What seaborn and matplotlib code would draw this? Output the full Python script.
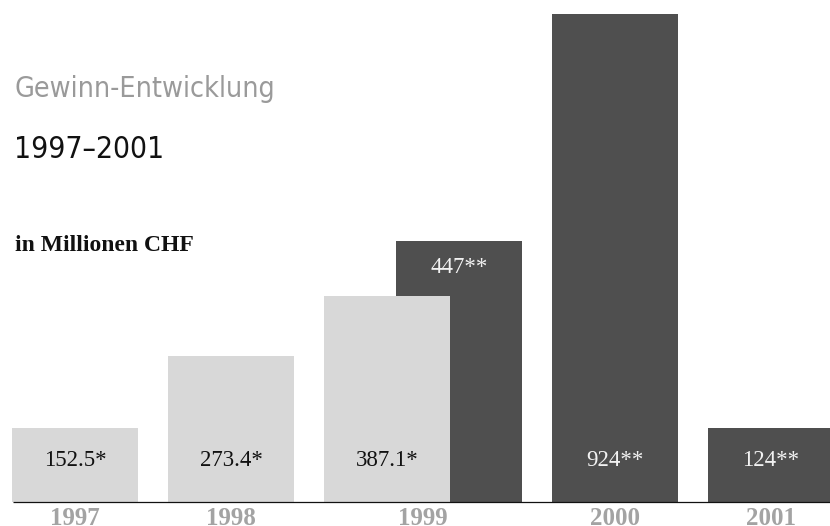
import matplotlib
matplotlib.use("Agg")
import matplotlib.pyplot as plt
import seaborn as sns
import pandas as pd
import numpy as np

# ---- data ----
light_years = [1997, 1998, 1999]
light_values = [152.5, 273.4, 387.1]          # printed values (mio CHF)
light_heights = [140, 276, 390]               # bar heights as drawn
light_marks = ["*", "*", "*"]

dark_years = [1999, 2000, 2001]
dark_values = [447, 924, 124]
dark_heights = [494, 924, 140]
dark_marks = ["**", "**", "**"]

year_labels = ["1997", "1998", "1999", "2000", "2001"]

title1 = "Gewinn-Entwicklung"
title2 = "1997\u20132001"
unit_label = "in Millionen CHF"

# ---- style ----
sns.set_theme(style="white")
LIGHT = "#d8d8d8"
DARK = "#4f4f4f"
W, H = 830, 526
DPI = 100
PX_PER_YEAR = 156.0
X0_PX = 75.0                       # centre of the first bar
BASE_PX = 502.0                    # baseline (from top)
PPU = 488.0 / 924.0                # px per value unit
DARK_SHIFT = 72.0 / PX_PER_YEAR    # dark series offset in years
BAR_W = 126.0 / PX_PER_YEAR

fig = plt.figure(figsize=(W / DPI, H / DPI), dpi=DPI)
ax = fig.add_axes([0, 0, 1, 1])

light_df = pd.DataFrame({"x": np.array(light_years, float), "h": light_heights})
dark_df = pd.DataFrame({"x": np.array(dark_years, float) + DARK_SHIFT, "h": dark_heights})

# dark series first so the light 1999 bar lies on top of it
sns.barplot(data=dark_df, x="x", y="h", native_scale=True, width=BAR_W,
            color=DARK, saturation=1, errorbar=None, ax=ax, linewidth=0)
sns.barplot(data=light_df, x="x", y="h", native_scale=True, width=BAR_W,
            color=LIGHT, saturation=1, errorbar=None, ax=ax, linewidth=0)
for p in ax.patches[len(dark_heights):]:
    p.set_zorder(3)

x_first = light_years[0]
ax.set_xlim(x_first - X0_PX / PX_PER_YEAR, x_first + (W - X0_PX) / PX_PER_YEAR)
ax.set_ylim(-(H - BASE_PX) / PPU, BASE_PX / PPU)
ax.set_axis_off()

def px2y(py):
    return (BASE_PX - py) / PPU

# baseline
ax.hlines(0, x_first - (X0_PX - 13) / PX_PER_YEAR, ax.get_xlim()[1],
          color="#111111", lw=0.9, zorder=5)

serif = ["Liberation Serif", "DejaVu Serif"]
val_fs = 16.5
label_base = px2y(466)

# value labels
for yr, v, m in zip(light_years, light_values, light_marks):
    ax.text(yr, label_base, f"{v:.1f}{m}", ha="center", va="baseline",
            family=serif, fontsize=val_fs, color="#111111", zorder=6)
for i, (yr, v, hgt, m) in enumerate(zip(dark_years, dark_values, dark_heights, dark_marks)):
    xpos = yr + DARK_SHIFT
    ypos = hgt - 32 / PPU if i == 0 else label_base
    ax.text(xpos, ypos, f"{v:d}{m}", ha="center", va="baseline",
            family=serif, fontsize=val_fs, color="#f2f2f2", zorder=6)

# year labels
year_x = []
for lab in year_labels:
    yr = int(lab)
    xs = []
    if yr in light_years:
        xs.append(yr)
    if yr in dark_years:
        xs.append(yr + DARK_SHIFT)
    year_x.append(np.mean(xs))
for xpos, lab in zip(year_x, year_labels):
    ax.text(xpos, px2y(525), lab, ha="center", va="baseline", family=serif,
            fontweight="bold", fontsize=18, color="#a3a3a3")

# titles
fig.text(14 / W, 1 - 97 / H, title1, ha="left", va="baseline",
         family="DejaVu Sans", fontstretch="condensed", fontsize=20.5, color="#9a9a9a")
fig.text(14 / W, 1 - 158 / H, title2, ha="left", va="baseline",
         family="DejaVu Sans", fontstretch="condensed", fontsize=21.5, color="#111111")
fig.text(15 / W, 1 - 251 / H, unit_label, ha="left", va="baseline",
         family=serif, fontweight="bold", fontsize=17, color="#111111")

fig.savefig("out.png", dpi=DPI)
